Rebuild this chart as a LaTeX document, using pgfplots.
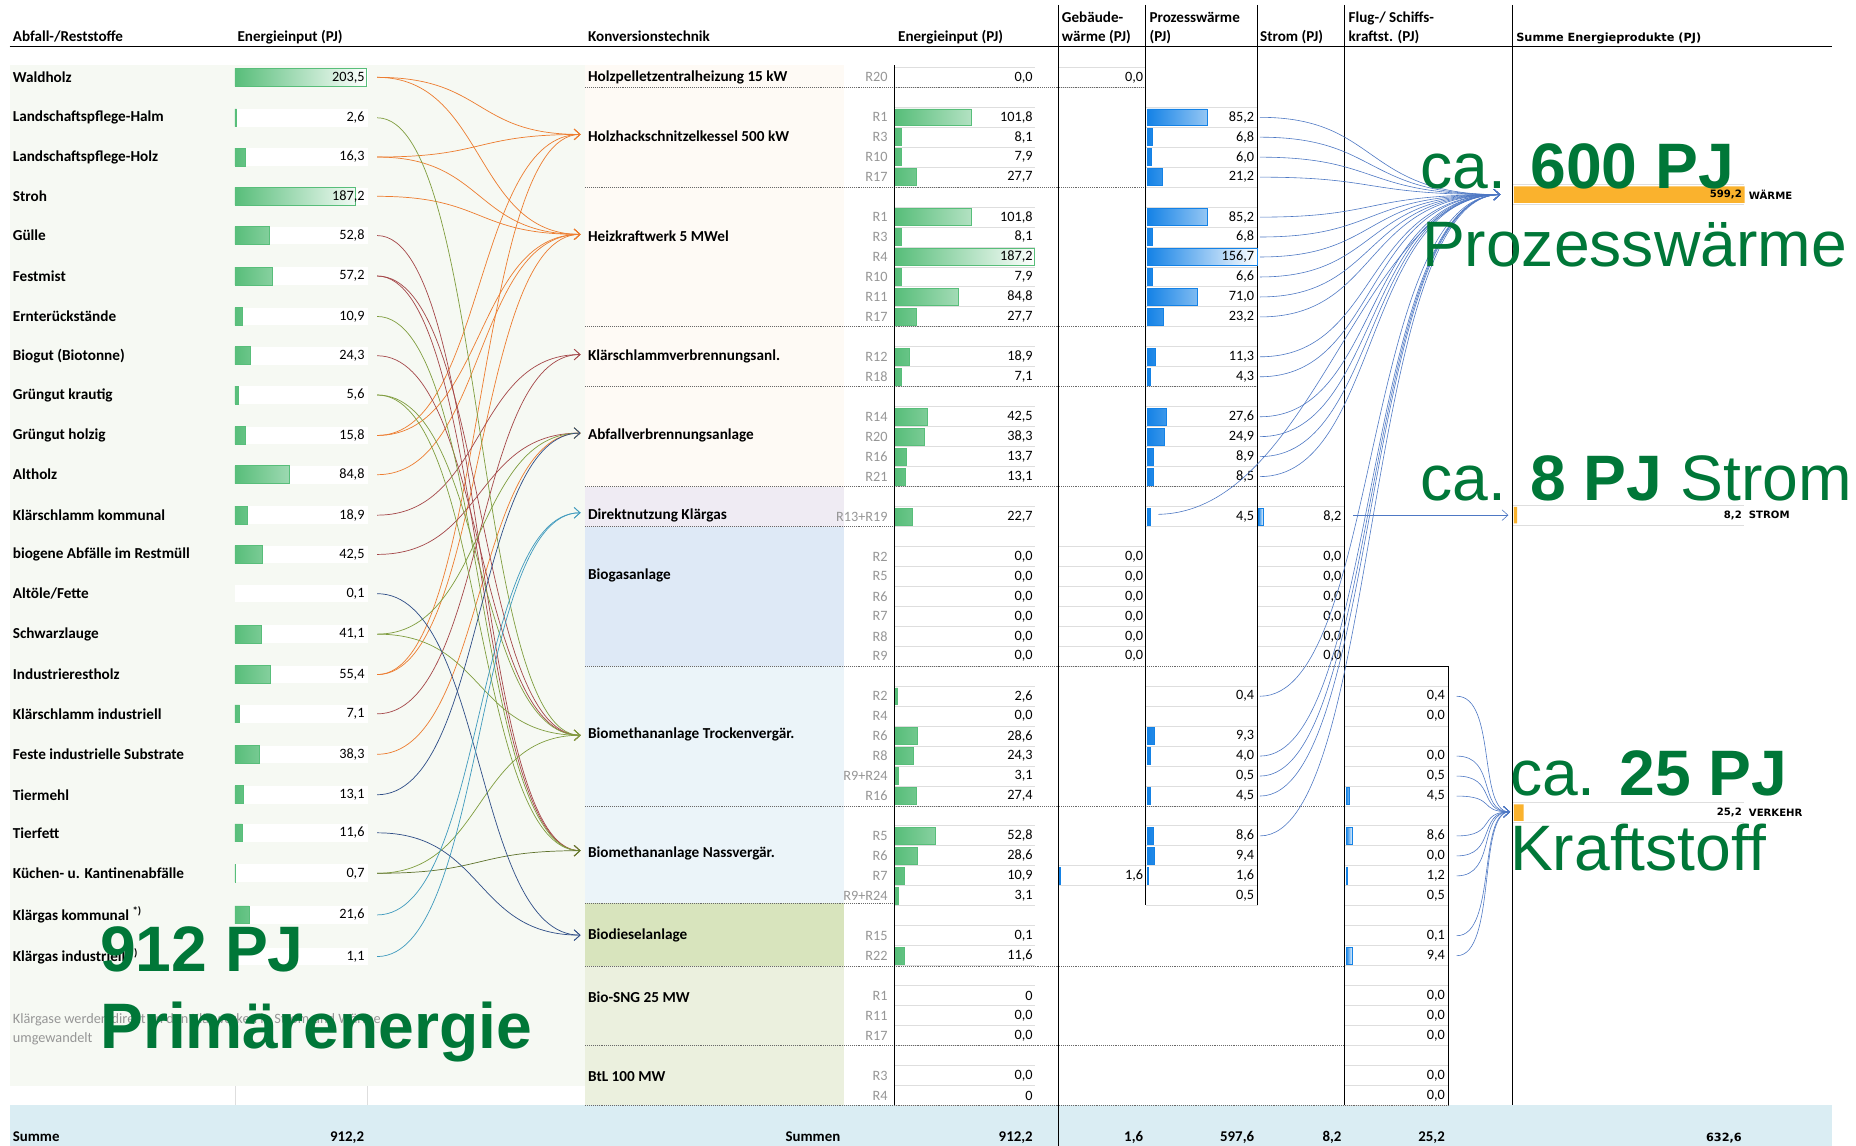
\documentclass[border=0pt]{standalone}
\usepackage{fontspec}
\setmainfont{Carlito}
\newfontfamily\arialf{Liberation Sans}
\newfontfamily\verdf{DejaVu Sans}
\usepackage{pgfplots}
\pgfplotsset{compat=1.18}
\usetikzlibrary{arrows.meta}

\definecolor{panelL}{RGB}{246,249,243}
\definecolor{cream}{RGB}{254,250,245}
\definecolor{lav}{RGB}{239,235,243}
\definecolor{blueA}{RGB}{222,233,246}
\definecolor{blueB}{RGB}{235,244,249}
\definecolor{grnA}{RGB}{216,228,189}
\definecolor{grnB}{RGB}{235,240,222}
\definecolor{sumband}{RGB}{218,237,243}
\definecolor{barG}{RGB}{88,190,122}
\definecolor{barB}{RGB}{20,130,230}
\definecolor{barO}{RGB}{250,178,45}
\definecolor{bigG}{RGB}{0,119,56}
\definecolor{cO}{RGB}{237,125,49}
\definecolor{cR}{RGB}{165,72,74}
\definecolor{cG}{RGB}{128,158,64}
\definecolor{cD}{RGB}{95,115,45}
\definecolor{cT}{RGB}{64,155,190}
\definecolor{cN}{RGB}{47,78,135}
\definecolor{cB}{RGB}{78,120,196}
\definecolor{rlab}{RGB}{150,150,150}
\definecolor{cellln}{RGB}{222,222,222}
\definecolor{dotc}{RGB}{105,105,105}

% one sheet = 1560 x 963 units, 1 unit = 1pt, y counted downwards
\pgfplotsset{sheet/.style={scale only axis, height=963pt, ymin=0, ymax=963,
  y dir=reverse, hide axis, clip=false, anchor=south west}}
\tikzset{
  lab/.style={font=\fontsize{12.8}{14}\selectfont\bfseries, anchor=west, inner sep=0pt},
  hd/.style={font=\fontsize{12.7}{14}\selectfont\bfseries, anchor=base west, inner sep=0pt},
  vl/.style={font=\fontsize{12}{14}\selectfont, anchor=east, inner sep=0pt},
  rl/.style={font=\fontsize{12}{14}\selectfont, text=rlab, anchor=east, inner sep=0pt},
  sm/.style={font=\fontsize{12.5}{14}\selectfont\bfseries, anchor=base east, inner sep=0pt},
  tiny/.style={font=\verdf\fontsize{8.5}{10}\selectfont\bfseries, inner sep=0pt},
  big/.style={font=\arialf\fontsize{54}{60}\selectfont, text=bigG, anchor=base west, inner sep=0pt},
  flow/.style={line width=0.6pt, -{Straight Barb[length=5pt,width=9pt]}},
  dots/.style={draw=dotc, line width=0.8pt, dash pattern=on 0.8pt off 0.8pt},
  grid/.style={draw=cellln, line width=0.8pt},
}
\newcommand\cl[3]{\draw[grid] (axis cs:#1,#3-8.4) -- (axis cs:#2,#3-8.4) (axis cs:#1,#3+8.4) -- (axis cs:#2,#3+8.4);}

\def\leftrows{65,99,132,165,198,232,266,299,332,366,399,433,466,499,533,567,600,634,668,700,734,769,804}
\def\midrows{65,98.6,115.3,132.1,148.9,182.5,199.2,216.0,232.8,249.6,266.4,299.9,316.7,350.3,367.0,383.8,400.6,434.2,467.7,484.5,501.3,518.1,534.8,551.6,585.2,602.0,618.7,635.5,652.3,669.1,702.6,719.4,736.2,753.0,786.5,803.3,836.9,853.7,870.4,904.0,920.8}
\def\prorows{98.6,115.3,132.1,148.9,182.5,199.2,216.0,232.8,249.6,266.4,299.9,316.7,350.3,367.0,383.8,400.6,434.2,585.2,602.0,618.7,635.5,652.3,669.1,702.6,719.4,736.2,753.0}
\def\flugrows{585.2,602.0,618.7,635.5,652.3,669.1,702.6,719.4,736.2,753.0,786.5,803.3,836.9,853.7,870.4,904.0,920.8}

\begin{document}
\begin{tikzpicture}
\useasboundingbox (0pt,0pt) rectangle (1560pt,963pt);

% ---------- backgrounds and rules
\begin{axis}[sheet, width=1560pt, xmin=0, xmax=1560, at={(0pt,0pt)}]
\fill[white] (axis cs:0,0) rectangle (axis cs:1560,963);
\fill[panelL] (axis cs:8,55) rectangle (axis cs:492,913);
\fill[cream] (axis cs:492,55) rectangle (axis cs:709,409);
\fill[lav] (axis cs:492,409) rectangle (axis cs:709,442.6);
\fill[blueA] (axis cs:492,442.6) rectangle (axis cs:709,560);
\fill[blueB] (axis cs:492,560) rectangle (axis cs:709,759);
\fill[grnA] (axis cs:492,759) rectangle (axis cs:709,812);
\fill[grnB] (axis cs:492,812) rectangle (axis cs:709,929);
\fill[sumband] (axis cs:8,929) rectangle (axis cs:1540,963);
\foreach \ya in \leftrows {\edef\tmp{\noexpand\fill[white] (axis cs:197.5,\ya-7.4) rectangle (axis cs:309,\ya+7.4);}\tmp}
\draw[grid] (axis cs:197.5,913) -- (axis cs:197.5,929) (axis cs:309,913) -- (axis cs:309,929);
\foreach \ya in \midrows {\edef\tmp{\noexpand\cl{752}{870}{\ya}}\tmp}
\foreach \ya in \prorows {\edef\tmp{\noexpand\cl{963}{1057}{\ya}}\tmp}
\foreach \ya in {65,467.7,484.5,501.3,518.1,534.8,551.6,736.2} {\edef\tmp{\noexpand\cl{890}{963}{\ya}}\tmp}
\foreach \ya in {434.2,467.7,484.5,501.3,518.1,534.8,551.6} {\edef\tmp{\noexpand\cl{1057}{1130}{\ya}}\tmp}
\foreach \ya in \flugrows {\edef\tmp{\noexpand\cl{1130}{1217}{\ya}}\tmp}
\foreach \ya in {163.6,433,683} {\edef\tmp{\noexpand\cl{1272}{1466}{\ya}}\tmp}
% group separators
\draw[dots] (axis cs:492,73.4) -- (axis cs:963,73.4);
\draw[dots] (axis cs:492,157.3) -- (axis cs:963,157.3);
\draw[dots] (axis cs:492,274.8) -- (axis cs:963,274.8);
\draw[dots] (axis cs:492,325.1) -- (axis cs:1057,325.1);
\draw[dots] (axis cs:492,409) -- (axis cs:1130,409);
\draw[dots] (axis cs:492,442.6) -- (axis cs:752,442.6);
\draw[dots] (axis cs:492,560) -- (axis cs:1130,560);
\draw[dots] (axis cs:492,677.5) -- (axis cs:1130,677.5);
\draw[dots] (axis cs:492,759) -- (axis cs:752,759);
\draw[dots] (axis cs:492,812) -- (axis cs:1130,812);
\draw[dots] (axis cs:492,878.8) -- (axis cs:1130,878.8);
\draw[dots] (axis cs:492,929) -- (axis cs:1217,929);
% column rules
\draw[line width=1pt] (axis cs:8,39) -- (axis cs:1540,39);
\draw[line width=1pt] (axis cs:752,55) -- (axis cs:752,929);
\draw[line width=1pt] (axis cs:890,4) -- (axis cs:890,963);
\draw[line width=1pt] (axis cs:963,4) -- (axis cs:963,761);
\draw[line width=1pt] (axis cs:1057,4) -- (axis cs:1057,761);
\draw[line width=1pt] (axis cs:1130,4) -- (axis cs:1130,929);
\draw[line width=1pt] (axis cs:1271.5,4) -- (axis cs:1271.5,929);
\draw[line width=0.7pt] (axis cs:1130,560) -- (axis cs:1217.4,560) -- (axis cs:1217.4,929);
\end{axis}

% ---------- Energieinput Abfall-/Reststoffe
\begin{axis}[sheet, width=110.3pt, xmin=0, xmax=203.5, at={(197.5pt,0pt)}]
\addplot[xbar, bar width=15, draw=barG, line width=0.6pt, left color=barG, right color=white]
  coordinates {(203.5,65) (2.6,99) (16.3,132) (187.2,165) (52.8,198) (57.2,232) (10.9,266)
  (24.3,299) (5.6,332) (15.8,366) (84.8,399) (18.9,433) (42.5,466) (41.1,533) (55.4,567)
  (7.1,600) (38.3,634) (13.1,668) (11.6,700) (0.7,734) (21.6,769) (1.1,804)};
\end{axis}

% ---------- Energieinput Konversionstechnik
\begin{axis}[sheet, width=116.8pt, xmin=0, xmax=187.2, at={(752.9pt,0pt)}]
\addplot[xbar, bar width=14, draw=barG, line width=0.6pt, left color=barG, right color=white]
  coordinates {(101.8,98.6) (8.1,115.3) (7.9,132.1) (27.7,148.9) (101.8,182.5) (8.1,199.2)
  (187.2,216.0) (7.9,232.8) (84.8,249.6) (27.7,266.4) (18.9,299.9) (7.1,316.7) (42.5,350.3)
  (38.3,367.0) (13.7,383.8) (13.1,400.6) (22.7,434.2) (2.6,585.2) (28.6,618.7) (24.3,635.5)
  (3.1,652.3) (27.4,669.1) (52.8,702.6) (28.6,719.4) (10.9,736.2) (3.1,753.0) (11.6,803.3)};
\end{axis}

% ---------- Gebaeudewaerme
\begin{axis}[sheet, width=90pt, xmin=0, xmax=150, at={(890.5pt,0pt)}]
\addplot[xbar, bar width=14, draw=barB, line width=0.6pt, left color=barB, right color=white]
  coordinates {(1.6,736.2)};
\end{axis}

% ---------- Prozesswaerme
\begin{axis}[sheet, width=92pt, xmin=0, xmax=156.7, at={(964.4pt,0pt)}]
\addplot[xbar, bar width=14, draw=barB, line width=0.6pt, left color=barB, right color=white]
  coordinates {(85.2,98.6) (6.8,115.3) (6.0,132.1) (21.2,148.9) (85.2,182.5) (6.8,199.2)
  (156.7,216.0) (6.6,232.8) (71.0,249.6) (23.2,266.4) (11.3,299.9) (4.3,316.7) (27.6,350.3)
  (24.9,367.0) (8.9,383.8) (8.5,400.6) (4.5,434.2) (9.3,618.7) (4.0,635.5) (4.5,669.1)
  (8.6,702.6) (9.4,719.4) (1.6,736.2)};
\end{axis}

% ---------- Strom
\begin{axis}[sheet, width=90pt, xmin=0, xmax=176, at={(1057.7pt,0pt)}]
\addplot[xbar, bar width=14, draw=barB, line width=0.6pt, left color=barB, right color=white]
  coordinates {(8.2,434.2)};
\end{axis}

% ---------- Flug-/Schiffskraftstoff
\begin{axis}[sheet, width=90pt, xmin=0, xmax=150, at={(1131.4pt,0pt)}]
\addplot[xbar, bar width=14, draw=barB, line width=0.6pt, left color=barB, right color=white]
  coordinates {(4.5,669.1) (8.6,702.6) (1.2,736.2) (9.4,803.3)};
\end{axis}

% ---------- Summe Energieprodukte
\begin{axis}[sheet, width=194pt, xmin=0, xmax=599.2, at={(1272.4pt,0pt)}]
\addplot[xbar, bar width=14, draw=none, fill=barO]
  coordinates {(599.2,163.6) (8.2,433) (25.2,683)};
\end{axis}

% ---------- texts and flows
\begin{axis}[sheet, width=1560pt, xmin=0, xmax=1560, at={(0pt,0pt)}]
\node[hd] at (axis cs:10.6,35.3) {Abfall-/Reststoffe};
\node[hd] at (axis cs:199.5,35.3) {Energieinput (PJ)};
\node[hd] at (axis cs:494.1,35.3) {Konversionstechnik};
\node[hd] at (axis cs:754.7,35.3) {Energieinput (PJ)};
\node[hd] at (axis cs:892.4,18.5) {Gebäude-};
\node[hd] at (axis cs:892.4,35.3) {wärme (PJ)};
\node[hd] at (axis cs:966,18.5) {Prozesswärme};
\node[hd] at (axis cs:966,35.3) {(PJ)};
\node[hd] at (axis cs:1059,35.3) {Strom (PJ)};
\node[hd] at (axis cs:1133.4,18.5) {Flug-/ Schiffs-};
\node[hd] at (axis cs:1133.4,35.3) {kraftst. (PJ)};
\node[hd, font=\verdf\fontsize{9.5}{11}\selectfont\bfseries] at (axis cs:1274.3,35.3) {Summe Energieprodukte (PJ)};

\foreach \ya/\txt in {65/Waldholz, 99/Landschaftspflege-Halm, 132/Landschaftspflege-Holz,
  165/Stroh, 198/Gülle, 232/Festmist, 266/Ernterückstände, 299/Biogut (Biotonne),
  332/Grüngut krautig, 366/Grüngut holzig, 399/Altholz, 433/Klärschlamm kommunal,
  466/biogene Abfälle im Restmüll, 499/{Altöle/Fette}, 533/Schwarzlauge, 567/Industrierestholz,
  600/Klärschlamm industriell, 634/Feste industrielle Substrate, 668/Tiermehl, 700/Tierfett,
  734/Küchen- u. Kantinenabfälle}
  {\edef\tmp{\noexpand\node[lab] at (axis cs:10.6,\ya) {\txt};}\tmp}
\node[lab] at (axis cs:10.6,769) {Klärgas kommunal \textsuperscript{*)}};
\node[lab] at (axis cs:10.6,804) {Klärgas industriell \textsuperscript{*)}};
\foreach \ya/\txt in {65/{203,5}, 99/{2,6}, 132/{16,3}, 165/{187,2}, 198/{52,8}, 232/{57,2},
  266/{10,9}, 299/{24,3}, 332/{5,6}, 366/{15,8}, 399/{84,8}, 433/{18,9}, 466/{42,5}, 499/{0,1},
  533/{41,1}, 567/{55,4}, 600/{7,1}, 634/{38,3}, 668/{13,1}, 700/{11,6}, 734/{0,7}, 769/{21,6},
  804/{1,1}}
  {\edef\tmp{\noexpand\node[vl] at (axis cs:306.6,\ya) {\txt};}\tmp}
\node[anchor=base west, inner sep=0pt, font=\fontsize{12}{14}\selectfont, text=rlab] at (axis cs:10.6,860) {Klärgase werden direkt an den Klärwerken in Strom und Wärme};
\node[anchor=base west, inner sep=0pt, font=\fontsize{12}{14}\selectfont, text=rlab] at (axis cs:10.6,876.5) {umgewandelt};

\foreach \ya/\txt in {65/Holzpelletzentralheizung 15 kW, 114.9/Holzhackschnitzelkessel 500 kW,
  198.9/Heizkraftwerk 5 MWel, 299.8/Klärschlammverbrennungsanl., 365.6/Abfallverbrennungsanlage,
  433.4/Direktnutzung Klärgas, 483.9/Biogasanlage, 617.2/Biomethananlage Trockenvergär.,
  717.3/Biomethananlage Nassvergär., 785.9/Biodieselanlage, 837.8/Bio-SNG 25 MW, 905/BtL 100 MW}
  {\edef\tmp{\noexpand\node[lab] at (axis cs:494.1,\ya) {\txt};}\tmp}

\foreach \ya/\rn/\vv in {65/R20/{0,0}, 98.6/R1/{101,8}, 115.3/R3/{8,1}, 132.1/R10/{7,9},
  148.9/R17/{27,7}, 182.5/R1/{101,8}, 199.2/R3/{8,1}, 216.0/R4/{187,2}, 232.8/R10/{7,9},
  249.6/R11/{84,8}, 266.4/R17/{27,7}, 299.9/R12/{18,9}, 316.7/R18/{7,1}, 350.3/R14/{42,5},
  367.0/R20/{38,3}, 383.8/R16/{13,7}, 400.6/R21/{13,1}, 434.2/R13+R19/{22,7}, 467.7/R2/{0,0},
  484.5/R5/{0,0}, 501.3/R6/{0,0}, 518.1/R7/{0,0}, 534.8/R8/{0,0}, 551.6/R9/{0,0},
  585.2/R2/{2,6}, 602.0/R4/{0,0}, 618.7/R6/{28,6}, 635.5/R8/{24,3}, 652.3/R9+R24/{3,1},
  669.1/R16/{27,4}, 702.6/R5/{52,8}, 719.4/R6/{28,6}, 736.2/R7/{10,9}, 753.0/R9+R24/{3,1},
  786.5/R15/{0,1}, 803.3/R22/{11,6}, 836.9/R1/0, 853.7/R11/{0,0}, 870.4/R17/{0,0},
  904.0/R3/{0,0}, 920.8/R4/0}
  {\edef\tmp{\noexpand\node[rl] at (axis cs:746.3,\ya) {\rn};
     \noexpand\node[vl] at (axis cs:868.2,\ya) {\vv};}\tmp}

\foreach \ya/\vv in {65/{0,0}, 467.7/{0,0}, 484.5/{0,0}, 501.3/{0,0}, 518.1/{0,0}, 534.8/{0,0},
  551.6/{0,0}, 736.2/{1,6}}
  {\edef\tmp{\noexpand\node[vl] at (axis cs:961,\ya) {\vv};}\tmp}
\foreach \ya/\vv in {98.6/{85,2}, 115.3/{6,8}, 132.1/{6,0}, 148.9/{21,2}, 182.5/{85,2},
  199.2/{6,8}, 216.0/{156,7}, 232.8/{6,6}, 249.6/{71,0}, 266.4/{23,2}, 299.9/{11,3},
  316.7/{4,3}, 350.3/{27,6}, 367.0/{24,9}, 383.8/{8,9}, 400.6/{8,5}, 434.2/{4,5},
  585.2/{0,4}, 618.7/{9,3}, 635.5/{4,0}, 652.3/{0,5}, 669.1/{4,5}, 702.6/{8,6},
  719.4/{9,4}, 736.2/{1,6}, 753.0/{0,5}}
  {\edef\tmp{\noexpand\node[vl] at (axis cs:1054.3,\ya) {\vv};}\tmp}
\foreach \ya/\vv in {434.2/{8,2}, 467.7/{0,0}, 484.5/{0,0}, 501.3/{0,0}, 518.1/{0,0},
  534.8/{0,0}, 551.6/{0,0}}
  {\edef\tmp{\noexpand\node[vl] at (axis cs:1127.7,\ya) {\vv};}\tmp}
\foreach \ya/\vv in {585.2/{0,4}, 602.0/{0,0}, 635.5/{0,0}, 652.3/{0,5}, 669.1/{4,5},
  702.6/{8,6}, 719.4/{0,0}, 736.2/{1,2}, 753.0/{0,5}, 786.5/{0,1}, 803.3/{9,4},
  836.9/{0,0}, 853.7/{0,0}, 870.4/{0,0}, 904.0/{0,0}, 920.8/{0,0}}
  {\edef\tmp{\noexpand\node[vl] at (axis cs:1214.6,\ya) {\vv};}\tmp}

\node[tiny, anchor=east] at (axis cs:1464.2,163.6) {599,2};
\node[tiny, anchor=west] at (axis cs:1469.8,163.6) {WÄRME};
\node[tiny, anchor=east] at (axis cs:1464.2,433) {8,2};
\node[tiny, anchor=west] at (axis cs:1469.8,433) {STROM};
\node[tiny, anchor=east] at (axis cs:1464.2,683) {25,2};
\node[tiny, anchor=west] at (axis cs:1469.8,683) {VERKEHR};

\node[sm, anchor=base west] at (axis cs:10.6,959.5) {Summe};
\node[sm] at (axis cs:306.2,959.5) {912,2};
\node[sm, anchor=base] at (axis cs:683.3,959.5) {Summen};
\node[sm] at (axis cs:868.2,959.5) {912,2};
\node[sm] at (axis cs:961,959.5) {1,6};
\node[sm] at (axis cs:1054.3,959.5) {597,6};
\node[sm] at (axis cs:1127.7,959.5) {8,2};
\node[sm] at (axis cs:1214.6,959.5) {25,2};
\node[sm, font=\verdf\fontsize{9.5}{11}\selectfont\bfseries] at (axis cs:1464.2,959.5) {632,6};

% flows: Reststoff -> Konversionstechnik
\foreach \ya/\yb in {65/113, 65/197, 132/113, 132/197, 165/197, 366/113, 366/197, 399/197,
  567/113, 567/197, 634/364}
  {\edef\tmp{\noexpand\draw[flow,cO] (axis cs:317,\ya) .. controls (axis cs:408,\ya) and (axis cs:398,\yb) .. (axis cs:488,\yb);}\tmp}
\foreach \ya/\yb in {198/715, 232/618, 232/715, 299/618, 433/298, 466/364, 600/298}
  {\edef\tmp{\noexpand\draw[flow,cR] (axis cs:317,\ya) .. controls (axis cs:408,\ya) and (axis cs:398,\yb) .. (axis cs:488,\yb);}\tmp}
\foreach \ya/\yb in {99/618, 266/715, 332/618, 332/715, 533/364, 533/618, 734/618}
  {\edef\tmp{\noexpand\draw[flow,cG] (axis cs:317,\ya) .. controls (axis cs:408,\ya) and (axis cs:398,\yb) .. (axis cs:488,\yb);}\tmp}
\draw[flow,cD] (axis cs:317,734) .. controls (axis cs:408,734) and (axis cs:398,715) .. (axis cs:488,715);
\foreach \ya/\yb in {499/786, 668/364, 700/786}
  {\edef\tmp{\noexpand\draw[flow,cN] (axis cs:317,\ya) .. controls (axis cs:408,\ya) and (axis cs:398,\yb) .. (axis cs:488,\yb);}\tmp}
\foreach \ya/\yb in {769/431, 804/431}
  {\edef\tmp{\noexpand\draw[flow,cT] (axis cs:317,\ya) .. controls (axis cs:408,\ya) and (axis cs:398,\yb) .. (axis cs:488,\yb);}\tmp}

% flows: Produkte -> Summe
\foreach \ya in {98.6,115.3,132.1,148.9,182.5,199.2,216.0,232.8,249.6,266.4,299.9,316.7,350.3,367.0,383.8,400.6,585.2,635.5,652.3,669.1,702.6}
  {\edef\tmp{\noexpand\draw[flow,cB,line width=0.5pt] (axis cs:1059,\ya) .. controls (axis cs:1160,\ya) and (axis cs:1145,163.6) .. (axis cs:1261,163.6);}\tmp}
\draw[flow,cB,line width=0.5pt] (axis cs:973.6,432.3) .. controls (axis cs:1105,430) and (axis cs:1145,163.6) .. (axis cs:1261,163.6);
\draw[flow,cB,line width=0.5pt] (axis cs:1137.6,433) -- (axis cs:1267.8,433);
\foreach \ya in {585.2,635.5,652.3,669.1,702.6,719.4,736.2,786.5,803.3}
  {\edef\tmp{\noexpand\draw[flow,cB,line width=0.5pt] (axis cs:1224.4,\ya) .. controls (axis cs:1258,\ya) and (axis cs:1242,682.4) .. (axis cs:1269.2,682.4);}\tmp}

% headline figures
\node[big] at (axis cs:84,816.7) {\bfseries 912 PJ};
\node[big] at (axis cs:84,881.2) {\bfseries Primärenergie};
\node[big] at (axis cs:1194,158.3) {ca. \textbf{600 PJ}};
\node[big] at (axis cs:1195,224) {Prozesswärme};
\node[big] at (axis cs:1194,420.3) {ca. \textbf{8 PJ} Strom};
\node[big] at (axis cs:1269,668.8) {ca. \textbf{25 PJ}};
\node[big] at (axis cs:1269,732) {Kraftstoff};
\end{axis}
\end{tikzpicture}
\end{document}
